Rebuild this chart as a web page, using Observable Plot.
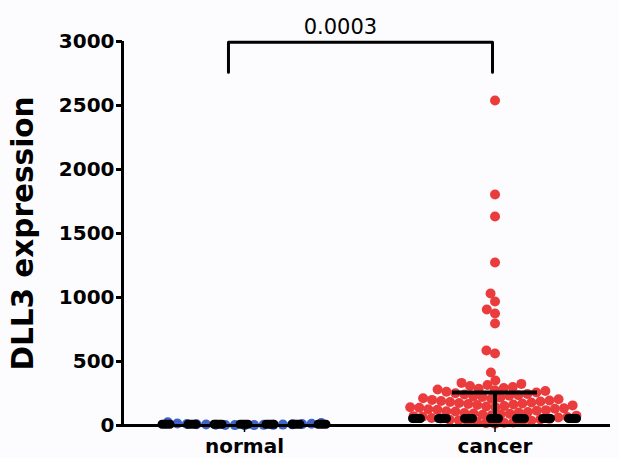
<!DOCTYPE html>
<html><head><meta charset="utf-8">
<script src="https://cdn.jsdelivr.net/npm/d3@7"></script>
<script src="https://cdn.jsdelivr.net/npm/@observablehq/plot@0.6"></script>
<style>
html,body{margin:0;padding:0;background:#fcfcff;}
</style>
</head><body><div id="chart"></div>
<script>
// ---- data ----
const groups = ["normal", "cancer"];
const normalValues = [2, 5, 8, 3, 12, 6, 15, 4, 9, 20, 7, 11, 3, 25, 14, 5, 10];
const cancerValues = [
  2539, 1805, 1633, 1273, 1031, 969, 906, 875, 797, 586, 563, 414, 352,
  333, 325, 316, 308, 300, 293, 287, 281, 275, 269, 263, 258, 252, 247, 242, 237,
  232, 227, 222, 218, 213, 209, 205, 200, 196, 192, 188, 184, 180, 176, 172, 168,
  164, 160, 157, 153, 149, 145, 142, 138, 134, 131, 127, 123, 120, 116, 112, 109,
  105, 102, 98, 94, 91, 87, 84, 80, 77, 73, 69, 66, 62, 59, 55, 52, 48, 45, 41,
  38, 34, 31, 27, 24, 21, 17, 14
];
const centerLines = [10, 55];        // dashed central line per group
const upperBars = [null, 258];       // upper error bar per group
const yTicks = [0, 500, 1000, 1500, 2000, 2500, 3000];
const yLabel = "DLL3 expression";
const pValue = "0.0003";
const bracketX = [-0.064, 0.99];
const bracketY = [2760, 2995];
const pValueX = 0.383;

// ---- layout ----
const W = 619, H = 458;
const mL = 122, mR = 9, mT = 41, mB = 33;
const xDomain = [-0.487, 1.461];
const yDomain = [0, 3000];
const pxPerUnit = (W - mL - mR) / (xDomain[1] - xDomain[0]);
const yPix = d3.scaleLinear(yDomain, [H - mB, mT]);
const R = 5;
const spacings = [9.6, 9.1];

function swarm(values, gi) {
  const spacing = spacings[gi];
  const pts = values.map(v => ({v, py: yPix(v)})).sort((a, b) => a.v - b.v);
  const placed = [];
  for (const p of pts) {
    const ivs = [];
    for (const q of placed) {
      const dy = Math.abs(p.py - q.py);
      if (dy < spacing) {
        const w = Math.sqrt(spacing * spacing - dy * dy);
        ivs.push([q.px - w, q.px + w]);
      }
    }
    const cands = [0];
    for (const [a, b] of ivs) cands.push(a, b);
    cands.sort((a, b) => Math.abs(a) - Math.abs(b));
    let best = 0;
    for (const c of cands) {
      if (ivs.every(([a, b]) => c <= a + 1e-6 || c >= b - 1e-6)) { best = c; break; }
    }
    p.px = best;
    placed.push(p);
  }
  return pts.map(p => ({group: groups[gi], gi, value: p.v, xu: gi + p.px / pxPerUnit}));
}

const dots = [...swarm(normalValues, 0), ...swarm(cancerValues, 1)];
const lineHalf = 82 / pxPerUnit;
const barHalf = 42.5 / pxPerUnit;
const centerRows = groups.map((g, i) => ({gi: i, x1: i - lineHalf, x2: i + lineHalf, y: centerLines[i]}));
const barRows = groups.map((g, i) => ({gi: i, x1: i - barHalf, x2: i + barHalf, y: upperBars[i], y0: centerLines[i]})).filter(d => d.y != null);
const bracketPts = [
  {x: bracketX[0], y: bracketY[0]}, {x: bracketX[0], y: bracketY[1]},
  {x: bracketX[1], y: bracketY[1]}, {x: bracketX[1], y: bracketY[0]}
];

const chart = Plot.plot({
  width: W, height: H,
  marginLeft: mL, marginRight: mR, marginTop: mT, marginBottom: mB,
  x: {domain: xDomain, axis: null},
  y: {domain: yDomain, axis: null},
  style: {fontFamily: "'DejaVu Sans', sans-serif", fontSize: "20px", fontWeight: "bold", background: "#fcfcff", color: "#000", overflow: "visible"},
  marks: [
    Plot.dot(dots, {x: "xu", y: "value", r: R, fill: d => d.gi === 0 ? "#3f63c8" : "#ea3c3c", stroke: "none"}),
    Plot.ruleY(centerRows, {x1: "x1", x2: "x2", y: "y", stroke: "#000", strokeWidth: 9, strokeDasharray: "8,18", strokeLinecap: "round"}),
    Plot.ruleY(barRows, {x1: "x1", x2: "x2", y: "y", stroke: "#000", strokeWidth: 4}),
    Plot.ruleX(barRows, {x: "gi", y1: "y0", y2: "y", stroke: "#000", strokeWidth: 4}),
    Plot.ruleX([xDomain[0]], {y1: yDomain[0], y2: yDomain[1], stroke: "#000", strokeWidth: 3}),
    Plot.ruleY([0], {stroke: "#000", strokeWidth: 3}),
    Plot.axisY({ticks: yTicks, tickFormat: d => String(d), tickSize: 6, tickPadding: 2, strokeWidth: 3, fontSize: 20, fontWeight: "bold", label: null}),
    Plot.axisX({ticks: [0, 1], tickFormat: i => groups[i], tickSize: 7, tickPadding: 6, strokeWidth: 1.5, fontSize: 20, fontWeight: "bold", label: null}),
    Plot.text([yLabel], {frameAnchor: "left", dx: -99, rotate: -90, textAnchor: "middle", lineAnchor: "middle", fontSize: 29.5, fontWeight: "bold"}),
    Plot.line(bracketPts, {x: "x", y: "y", stroke: "#000", strokeWidth: 3, curve: "linear"}),
    Plot.text([pValue], {x: pValueX, y: bracketY[1], dy: -15, fontSize: 21, fontWeight: "normal"})
  ]
});
document.getElementById("chart").appendChild(chart);
</script>
</body></html>
